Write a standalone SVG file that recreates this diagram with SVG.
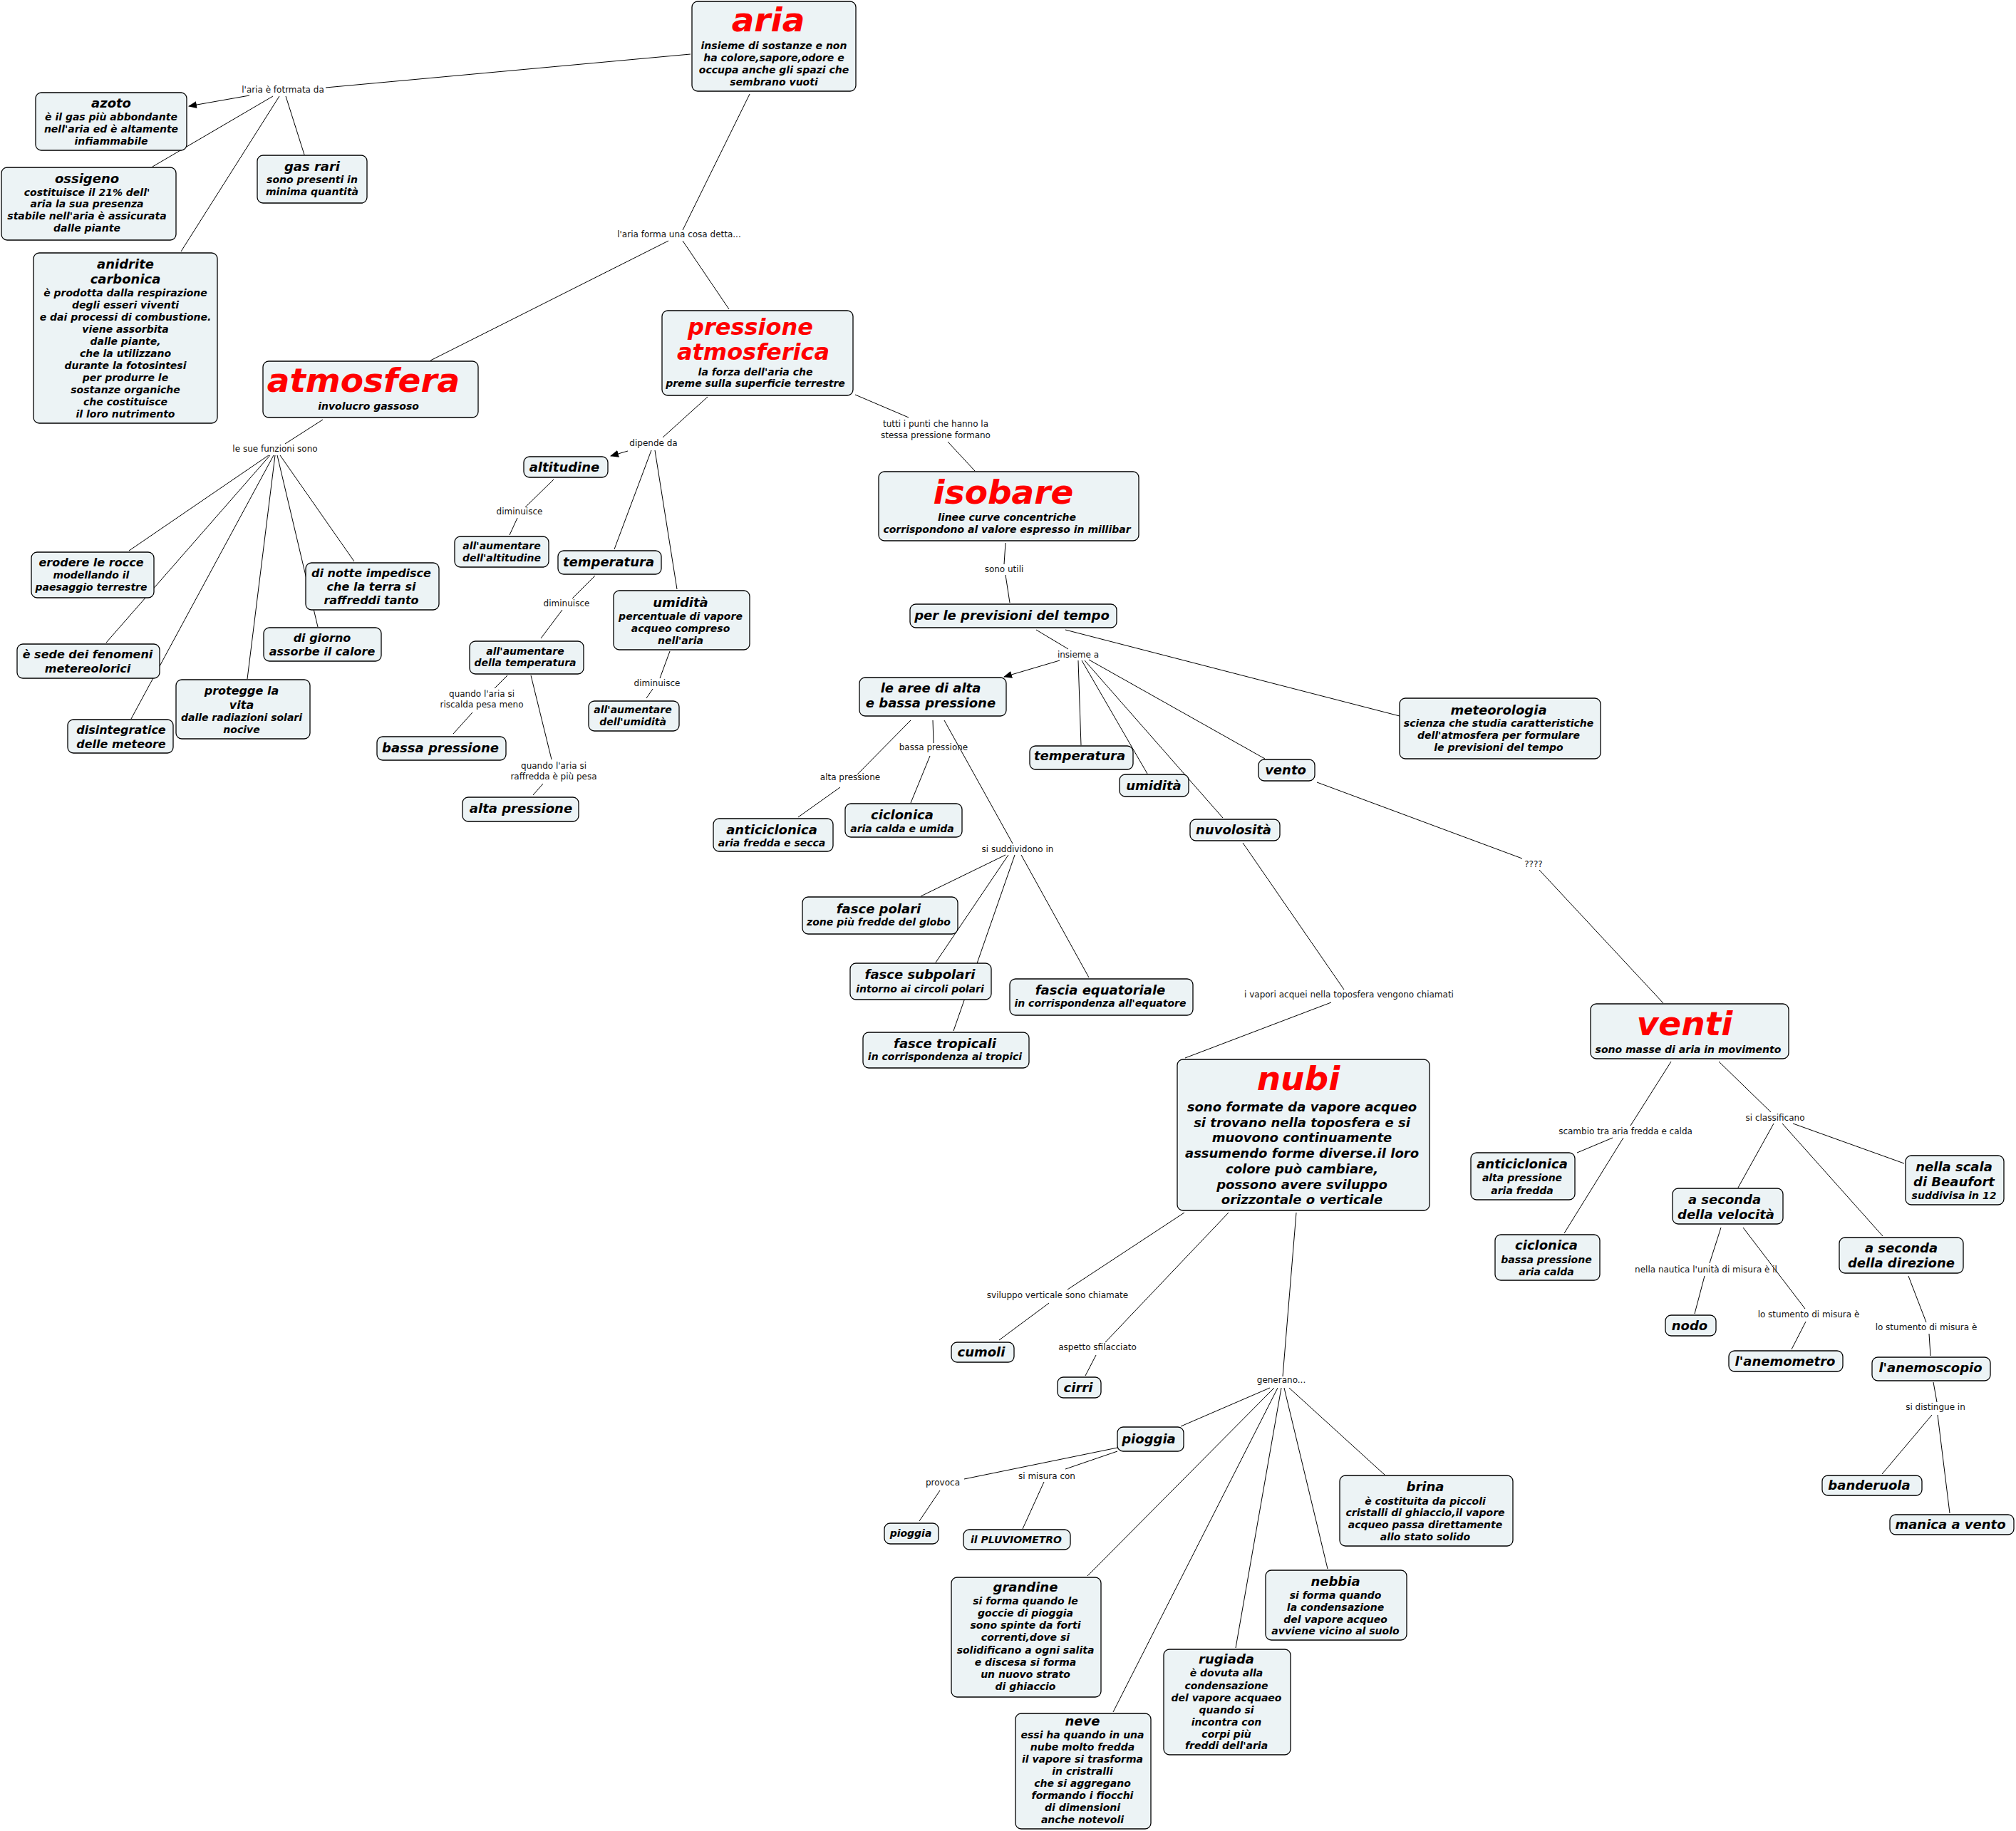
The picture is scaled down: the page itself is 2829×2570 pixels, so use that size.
<svg xmlns="http://www.w3.org/2000/svg" width="2829" height="2570" viewBox="0 0 2829 2570">
<style>
.bg{fill:#fff}
.n rect{fill:#ecf3f5;stroke:#000;stroke-width:1.3}
text{font-family:"DejaVu Sans","Liberation Sans",sans-serif}
.t{font-weight:bold;font-style:italic;text-anchor:middle;fill:#000}
.s18{font-size:18px}
.s16{font-size:16px}
.s14{font-size:14px}
.big{font-size:47px;fill:#ff0000}
.p32{font-size:32px;fill:#ff0000}
.lbl{font-size:12px;text-anchor:middle;fill:#111}
#connectors line{stroke:#000;stroke-width:1}
</style>
<defs>
<marker id="arr" markerWidth="12" markerHeight="10" refX="11" refY="5" orient="auto" markerUnits="userSpaceOnUse"><path d="M0,0 L12,5 L0,10 z" fill="#000"/></marker>
</defs>
<rect class="bg" x="0" y="0" width="2829" height="2570"/>
<g id="connectors">
<line x1="969" y1="76" x2="457" y2="123"/>
<line x1="350" y1="134" x2="265" y2="149" marker-end="url(#arr)"/>
<line x1="383" y1="135" x2="214" y2="234"/>
<line x1="392" y1="135" x2="254" y2="353"/>
<line x1="401" y1="135" x2="427" y2="217"/>
<line x1="1052" y1="132" x2="958" y2="323"/>
<line x1="938" y1="338" x2="604" y2="506"/>
<line x1="958" y1="338" x2="1023" y2="434"/>
<line x1="453" y1="589" x2="400" y2="623"/>
<line x1="377" y1="639" x2="181" y2="773"/>
<line x1="379" y1="639" x2="149" y2="902"/>
<line x1="384" y1="639" x2="184" y2="1009"/>
<line x1="386" y1="639" x2="347" y2="953"/>
<line x1="389" y1="639" x2="446" y2="880"/>
<line x1="393" y1="639" x2="497" y2="788"/>
<line x1="993" y1="557" x2="930" y2="614"/>
<line x1="881" y1="633" x2="857" y2="640" marker-end="url(#arr)"/>
<line x1="914" y1="632" x2="862" y2="771"/>
<line x1="919" y1="632" x2="950" y2="827"/>
<line x1="777" y1="673" x2="737" y2="712"/>
<line x1="726" y1="727" x2="715" y2="751"/>
<line x1="835" y1="808" x2="803" y2="840"/>
<line x1="789" y1="856" x2="759" y2="896"/>
<line x1="940" y1="914" x2="926" y2="952"/>
<line x1="916" y1="967" x2="907" y2="980"/>
<line x1="712" y1="948" x2="694" y2="966"/>
<line x1="663" y1="1000" x2="636" y2="1030"/>
<line x1="745" y1="948" x2="774" y2="1066"/>
<line x1="762" y1="1100" x2="748" y2="1116"/>
<line x1="1200" y1="554" x2="1275" y2="586"/>
<line x1="1330" y1="620" x2="1368" y2="661"/>
<line x1="1411" y1="762" x2="1409" y2="792"/>
<line x1="1411" y1="807" x2="1417" y2="846"/>
<line x1="1454" y1="884" x2="1499" y2="911"/>
<line x1="1495" y1="884" x2="1964" y2="1005"/>
<line x1="1487" y1="927" x2="1409" y2="950" marker-end="url(#arr)"/>
<line x1="1513" y1="927" x2="1517" y2="1046"/>
<line x1="1518" y1="927" x2="1610" y2="1086"/>
<line x1="1522" y1="927" x2="1716" y2="1148"/>
<line x1="1528" y1="926" x2="1775" y2="1065"/>
<line x1="1278" y1="1011" x2="1203" y2="1087"/>
<line x1="1179" y1="1105" x2="1120" y2="1147"/>
<line x1="1309" y1="1011" x2="1310" y2="1043"/>
<line x1="1305" y1="1061" x2="1278" y2="1127"/>
<line x1="1325" y1="1011" x2="1421" y2="1184"/>
<line x1="1411" y1="1200" x2="1292" y2="1258"/>
<line x1="1415" y1="1200" x2="1313" y2="1351"/>
<line x1="1424" y1="1200" x2="1338" y2="1447"/>
<line x1="1433" y1="1200" x2="1528" y2="1372"/>
<line x1="1848" y1="1098" x2="2136" y2="1205"/>
<line x1="2160" y1="1221" x2="2334" y2="1408"/>
<line x1="1744" y1="1183" x2="1886" y2="1389"/>
<line x1="1868" y1="1407" x2="1663" y2="1485"/>
<line x1="2345" y1="1490" x2="2288" y2="1580"/>
<line x1="2263" y1="1597" x2="2213" y2="1618"/>
<line x1="2278" y1="1597" x2="2195" y2="1731"/>
<line x1="2412" y1="1490" x2="2485" y2="1561"/>
<line x1="2489" y1="1577" x2="2439" y2="1667"/>
<line x1="2501" y1="1577" x2="2642" y2="1735"/>
<line x1="2516" y1="1577" x2="2672" y2="1633"/>
<line x1="2415" y1="1723" x2="2399" y2="1773"/>
<line x1="2392" y1="1791" x2="2378" y2="1844"/>
<line x1="2446" y1="1723" x2="2533" y2="1837"/>
<line x1="2534" y1="1855" x2="2514" y2="1894"/>
<line x1="2678" y1="1791" x2="2703" y2="1856"/>
<line x1="2707" y1="1872" x2="2709" y2="1903"/>
<line x1="2713" y1="1940" x2="2718" y2="1968"/>
<line x1="2711" y1="1986" x2="2641" y2="2069"/>
<line x1="2719" y1="1986" x2="2736" y2="2124"/>
<line x1="1662" y1="1702" x2="1498" y2="1810"/>
<line x1="1472" y1="1829" x2="1402" y2="1881"/>
<line x1="1724" y1="1702" x2="1551" y2="1884"/>
<line x1="1538" y1="1902" x2="1523" y2="1931"/>
<line x1="1819" y1="1702" x2="1800" y2="1932"/>
<line x1="1782" y1="1948" x2="1657" y2="2002"/>
<line x1="1788" y1="1948" x2="1526" y2="2212"/>
<line x1="1793" y1="1948" x2="1562" y2="2403"/>
<line x1="1798" y1="1948" x2="1734" y2="2313"/>
<line x1="1802" y1="1948" x2="1863" y2="2202"/>
<line x1="1809" y1="1948" x2="1943" y2="2070"/>
<line x1="1568" y1="2032" x2="1353" y2="2076"/>
<line x1="1319" y1="2092" x2="1290" y2="2135"/>
<line x1="1568" y1="2037" x2="1495" y2="2062"/>
<line x1="1465" y1="2080" x2="1435" y2="2146"/>
</g>
<g id="link-labels">
<text class="lbl" x="397" y="130">l'aria è fotrmata da</text>
<text class="lbl" x="953" y="333">l'aria forma una cosa detta...</text>
<text class="lbl" x="386" y="634">le sue funzioni sono</text>
<text class="lbl" x="917" y="626">dipende da</text>
<text class="lbl"><tspan x="1313" y="599">tutti i punti che hanno la</tspan><tspan x="1313" y="615">stessa pressione formano</tspan></text>
<text class="lbl" x="729" y="722">diminuisce</text>
<text class="lbl" x="795" y="851">diminuisce</text>
<text class="lbl" x="922" y="963">diminuisce</text>
<text class="lbl"><tspan x="676" y="978">quando l'aria si</tspan><tspan x="676" y="993">riscalda pesa meno</tspan></text>
<text class="lbl"><tspan x="777" y="1079">quando l'aria si</tspan><tspan x="777" y="1094">raffredda è più pesa</tspan></text>
<text class="lbl" x="1409" y="803">sono utili</text>
<text class="lbl" x="1513" y="923">insieme a</text>
<text class="lbl" x="1310" y="1053">bassa pressione</text>
<text class="lbl" x="1193" y="1095">alta pressione</text>
<text class="lbl" x="1428" y="1196">si suddividono in</text>
<text class="lbl" x="2152" y="1217">????</text>
<text class="lbl" x="1893" y="1400">i vapori acquei nella toposfera vengono chiamati</text>
<text class="lbl" x="2281" y="1592">scambio tra aria fredda e calda</text>
<text class="lbl" x="2491" y="1573">si classificano</text>
<text class="lbl" x="2394" y="1786">nella nautica l'unità di misura è il</text>
<text class="lbl" x="2538" y="1849">lo stumento di misura è</text>
<text class="lbl" x="2703" y="1867">lo stumento di misura è</text>
<text class="lbl" x="2716" y="1979">si distingue in</text>
<text class="lbl" x="1484" y="1822">sviluppo verticale sono chiamate</text>
<text class="lbl" x="1540" y="1895">aspetto sfilacciato</text>
<text class="lbl" x="1798" y="1941">generano...</text>
<text class="lbl" x="1323" y="2085">provoca</text>
<text class="lbl" x="1469" y="2076">si misura con</text>
</g>
<g id="aria" class="n"><rect x="971" y="2" width="230" height="126" rx="8"/>
<text class="t big" x="1078" y="44">aria</text>
<text class="t s14"><tspan x="1086" y="69">insieme di sostanze e non</tspan><tspan x="1086" y="86">ha colore,sapore,odore e</tspan><tspan x="1086" y="103">occupa anche gli spazi che</tspan><tspan x="1086" y="120">sembrano vuoti</tspan></text></g>
<g id="azoto" class="n"><rect x="50" y="130" width="212" height="81" rx="8"/>
<text class="t s18" x="156" y="151">azoto</text>
<text class="t s14"><tspan x="156" y="169">è il gas più abbondante</tspan><tspan x="156" y="186">nell'aria ed è altamente</tspan><tspan x="156" y="203">infiammabile</tspan></text></g>
<g id="ossigeno" class="n"><rect x="2" y="235" width="245" height="102" rx="8"/>
<text class="t s18" x="122" y="257">ossigeno</text>
<text class="t s14"><tspan x="122" y="275">costituisce il 21% dell'</tspan><tspan x="122" y="291">aria la sua presenza</tspan><tspan x="122" y="308">stabile nell'aria è assicurata</tspan><tspan x="122" y="325">dalle piante</tspan></text></g>
<g id="gas-rari" class="n"><rect x="361" y="218" width="154" height="67" rx="8"/>
<text class="t s18" x="438" y="240">gas rari</text>
<text class="t s14"><tspan x="438" y="257">sono presenti in</tspan><tspan x="438" y="274">minima quantità</tspan></text></g>
<g id="anidrite" class="n"><rect x="47" y="355" width="258" height="239" rx="8"/>
<text class="t s18"><tspan x="176" y="377">anidrite</tspan><tspan x="176" y="398">carbonica</tspan></text>
<text class="t s14"><tspan x="176" y="416">è prodotta dalla respirazione</tspan><tspan x="176" y="433">degli esseri viventi</tspan><tspan x="176" y="450">e dai processi di combustione.</tspan><tspan x="176" y="467">viene assorbita</tspan><tspan x="176" y="484">dalle piante,</tspan><tspan x="176" y="501">che la utilizzano</tspan><tspan x="176" y="518">durante la fotosintesi</tspan><tspan x="176" y="535">per produrre le</tspan><tspan x="176" y="552">sostanze organiche</tspan><tspan x="176" y="569">che costituisce</tspan><tspan x="176" y="586">il loro nutrimento</tspan></text></g>
<g id="atmosfera" class="n"><rect x="369" y="507" width="302" height="79" rx="8"/>
<text class="t big" x="510" y="550">atmosfera</text>
<text class="t s14" x="517" y="575">involucro gassoso</text></g>
<g id="pressione" class="n"><rect x="929" y="436" width="268" height="119" rx="8"/>
<text class="t p32"><tspan x="1053" y="470">pressione</tspan><tspan x="1057" y="505">atmosferica</tspan></text>
<text class="t s14"><tspan x="1060" y="527">la forza dell'aria che</tspan><tspan x="1060" y="543">preme sulla superficie terrestre</tspan></text></g>
<g id="isobare" class="n"><rect x="1233" y="662" width="365" height="97" rx="8"/>
<text class="t big" x="1408" y="707">isobare</text>
<text class="t s14"><tspan x="1413" y="731">linee curve concentriche</tspan><tspan x="1413" y="748">corrispondono al valore espresso in millibar</tspan></text></g>
<g id="previsioni" class="n"><rect x="1277" y="848" width="290" height="33" rx="8"/>
<text class="t s18" x="1420" y="870">per le previsioni del tempo</text></g>
<g id="aree" class="n"><rect x="1206" y="951" width="206" height="54" rx="8"/>
<text class="t s18"><tspan x="1306" y="972">le aree di alta</tspan><tspan x="1306" y="993">e bassa pressione</tspan></text></g>
<g id="temperatura2" class="n"><rect x="1445" y="1047" width="145" height="33" rx="8"/>
<text class="t s18" x="1515" y="1067">temperatura</text></g>
<g id="umidita2" class="n"><rect x="1571" y="1087" width="97" height="31" rx="8"/>
<text class="t s18" x="1619" y="1109">umidità</text></g>
<g id="vento" class="n"><rect x="1766" y="1066" width="79" height="30" rx="8"/>
<text class="t s18" x="1804" y="1087">vento</text></g>
<g id="nuvolosita" class="n"><rect x="1670" y="1150" width="126" height="30" rx="8"/>
<text class="t s18" x="1731" y="1171">nuvolosità</text></g>
<g id="meteorologia" class="n"><rect x="1964" y="980" width="282" height="85" rx="8"/>
<text class="t s18" x="2103" y="1003">meteorologia</text>
<text class="t s14"><tspan x="2103" y="1020">scienza che studia caratteristiche</tspan><tspan x="2103" y="1037">dell'atmosfera per formulare</tspan><tspan x="2103" y="1054">le previsioni del tempo</tspan></text></g>
<g id="anticiclonica1" class="n"><rect x="1001" y="1149" width="168" height="46" rx="8"/>
<text class="t s18" x="1083" y="1171">anticiclonica</text>
<text class="t s14" x="1083" y="1188">aria fredda e secca</text></g>
<g id="ciclonica1" class="n"><rect x="1186" y="1128" width="164" height="47" rx="8"/>
<text class="t s18" x="1266" y="1150">ciclonica</text>
<text class="t s14" x="1266" y="1168">aria calda e umida</text></g>
<g id="fasce-polari" class="n"><rect x="1126" y="1259" width="218" height="52" rx="8"/>
<text class="t s18" x="1233" y="1282">fasce polari</text>
<text class="t s14" x="1233" y="1299">zone più fredde del globo</text></g>
<g id="fasce-subpolari" class="n"><rect x="1193" y="1352" width="198" height="51" rx="8"/>
<text class="t s18" x="1291" y="1374">fasce subpolari</text>
<text class="t s14" x="1291" y="1393">intorno ai circoli polari</text></g>
<g id="fascia-equatoriale" class="n"><rect x="1417" y="1374" width="257" height="51" rx="8"/>
<text class="t s18" x="1544" y="1396">fascia equatoriale</text>
<text class="t s14" x="1544" y="1413">in corrispondenza all'equatore</text></g>
<g id="fasce-tropicali" class="n"><rect x="1211" y="1449" width="233" height="50" rx="8"/>
<text class="t s18" x="1326" y="1471">fasce tropicali</text>
<text class="t s14" x="1326" y="1488">in corrispondenza ai tropici</text></g>
<g id="venti" class="n"><rect x="2232" y="1409" width="278" height="77" rx="8"/>
<text class="t big" x="2364" y="1453">venti</text>
<text class="t s14" x="2369" y="1478">sono masse di aria in movimento</text></g>
<g id="nubi" class="n"><rect x="1652" y="1487" width="354" height="212" rx="8"/>
<text class="t big" x="1822" y="1530">nubi</text>
<text class="t s18"><tspan x="1827" y="1560">sono formate da vapore acqueo</tspan><tspan x="1827" y="1582">si trovano nella toposfera e si</tspan><tspan x="1827" y="1603">muovono continuamente</tspan><tspan x="1827" y="1625">assumendo forme diverse.il loro</tspan><tspan x="1827" y="1647">colore può cambiare,</tspan><tspan x="1827" y="1669">possono avere sviluppo</tspan><tspan x="1827" y="1690">orizzontale o verticale</tspan></text></g>
<g id="altitudine" class="n"><rect x="735" y="641" width="118" height="29" rx="8"/>
<text class="t s18" x="792" y="662">altitudine</text></g>
<g id="aum-altitudine" class="n"><rect x="638" y="753" width="132" height="43" rx="8"/>
<text class="t s14"><tspan x="704" y="771">all'aumentare</tspan><tspan x="704" y="788">dell'altitudine</tspan></text></g>
<g id="temperatura1" class="n"><rect x="783" y="773" width="145" height="33" rx="8"/>
<text class="t s18" x="854" y="795">temperatura</text></g>
<g id="aum-temperatura" class="n"><rect x="659" y="900" width="160" height="46" rx="8"/>
<text class="t s14"><tspan x="737" y="919">all'aumentare</tspan><tspan x="737" y="935">della temperatura</tspan></text></g>
<g id="umidita1" class="n"><rect x="861" y="829" width="191" height="83" rx="8"/>
<text class="t s18" x="955" y="852">umidità</text>
<text class="t s14"><tspan x="955" y="870">percentuale di vapore</tspan><tspan x="955" y="887">acqueo compreso</tspan><tspan x="955" y="904">nell'aria</tspan></text></g>
<g id="aum-umidita" class="n"><rect x="826" y="984" width="127" height="42" rx="8"/>
<text class="t s14"><tspan x="888" y="1001">all'aumentare</tspan><tspan x="888" y="1018">dell'umidità</tspan></text></g>
<g id="bassa-pressione" class="n"><rect x="529" y="1034" width="181" height="33" rx="8"/>
<text class="t s18" x="618" y="1056">bassa pressione</text></g>
<g id="alta-pressione" class="n"><rect x="649" y="1119" width="163" height="34" rx="8"/>
<text class="t s18" x="731" y="1141">alta pressione</text></g>
<g id="erodere" class="n"><rect x="44" y="775" width="172" height="64" rx="8"/>
<text class="t s16" x="128" y="795">erodere le rocce</text>
<text class="t s14"><tspan x="128" y="812">modellando il</tspan><tspan x="128" y="829">paesaggio terrestre</tspan></text></g>
<g id="di-notte" class="n"><rect x="429" y="790" width="187" height="66" rx="8"/>
<text class="t s16"><tspan x="521" y="810">di notte impedisce</tspan><tspan x="521" y="829">che la terra si</tspan><tspan x="521" y="848">raffreddi tanto</tspan></text></g>
<g id="di-giorno" class="n"><rect x="370" y="881" width="165" height="47" rx="8"/>
<text class="t s16"><tspan x="452" y="901">di giorno</tspan><tspan x="452" y="920">assorbe il calore</tspan></text></g>
<g id="sede" class="n"><rect x="24" y="904" width="200" height="48" rx="8"/>
<text class="t s16"><tspan x="123" y="924">è sede dei fenomeni</tspan><tspan x="123" y="944">metereolorici</tspan></text></g>
<g id="protegge" class="n"><rect x="247" y="954" width="188" height="83" rx="8"/>
<text class="t s16"><tspan x="339" y="975">protegge la</tspan><tspan x="339" y="995">vita</tspan></text>
<text class="t s14"><tspan x="339" y="1012">dalle radiazioni solari</tspan><tspan x="339" y="1029">nocive</tspan></text></g>
<g id="disintegratice" class="n"><rect x="95" y="1010" width="148" height="47" rx="8"/>
<text class="t s16"><tspan x="170" y="1030">disintegratice</tspan><tspan x="170" y="1050">delle meteore</tspan></text></g>
<g id="anticiclonica2" class="n"><rect x="2064" y="1618" width="146" height="66" rx="8"/>
<text class="t s18" x="2136" y="1640">anticiclonica</text>
<text class="t s14"><tspan x="2136" y="1658">alta pressione</tspan><tspan x="2136" y="1676">aria fredda</tspan></text></g>
<g id="ciclonica2" class="n"><rect x="2098" y="1733" width="147" height="64" rx="8"/>
<text class="t s18" x="2170" y="1754">ciclonica</text>
<text class="t s14"><tspan x="2170" y="1773">bassa pressione</tspan><tspan x="2170" y="1790">aria calda</tspan></text></g>
<g id="velocita" class="n"><rect x="2347" y="1668" width="155" height="50" rx="8"/>
<text class="t s18"><tspan x="2420" y="1690">a seconda</tspan><tspan x="2422" y="1711">della velocità</tspan></text></g>
<g id="beaufort" class="n"><rect x="2674" y="1622" width="138" height="69" rx="8"/>
<text class="t s18"><tspan x="2742" y="1644">nella scala</tspan><tspan x="2742" y="1665">di Beaufort</tspan></text>
<text class="t s14" x="2742" y="1683">suddivisa in 12</text></g>
<g id="direzione" class="n"><rect x="2581" y="1737" width="174" height="50" rx="8"/>
<text class="t s18"><tspan x="2668" y="1758">a seconda</tspan><tspan x="2668" y="1779">della direzione</tspan></text></g>
<g id="nodo" class="n"><rect x="2337" y="1846" width="71" height="29" rx="8"/>
<text class="t s18" x="2371" y="1867">nodo</text></g>
<g id="anemometro" class="n"><rect x="2426" y="1896" width="160" height="29" rx="8"/>
<text class="t s18" x="2505" y="1917">l'anemometro</text></g>
<g id="anemoscopio" class="n"><rect x="2627" y="1905" width="166" height="33" rx="8"/>
<text class="t s18" x="2709" y="1926">l'anemoscopio</text></g>
<g id="banderuola" class="n"><rect x="2557" y="2071" width="140" height="28" rx="8"/>
<text class="t s18" x="2623" y="2091">banderuola</text></g>
<g id="manica" class="n"><rect x="2652" y="2126" width="174" height="28" rx="8"/>
<text class="t s18" x="2737" y="2146">manica a vento</text></g>
<g id="cumoli" class="n"><rect x="1335" y="1884" width="88" height="28" rx="8"/>
<text class="t s18" x="1377" y="1904">cumoli</text></g>
<g id="cirri" class="n"><rect x="1484" y="1933" width="61" height="29" rx="8"/>
<text class="t s18" x="1513" y="1954">cirri</text></g>
<g id="pioggia" class="n"><rect x="1568" y="2003" width="93" height="34" rx="8"/>
<text class="t s18" x="1612" y="2026">pioggia</text></g>
<g id="pioggia2" class="n"><rect x="1241" y="2138" width="76" height="29" rx="8"/>
<text class="t s14" x="1278" y="2157">pioggia</text></g>
<g id="pluviometro" class="n"><rect x="1352" y="2147" width="150" height="28" rx="8"/>
<text class="t s14" x="1426" y="2166">il PLUVIOMETRO</text></g>
<g id="brina" class="n"><rect x="1880" y="2071" width="243" height="99" rx="8"/>
<text class="t s18" x="2000" y="2093">brina</text>
<text class="t s14"><tspan x="2000" y="2112">è costituita da piccoli</tspan><tspan x="2000" y="2128">cristalli di ghiaccio,il vapore</tspan><tspan x="2000" y="2145">acqueo passa direttamente</tspan><tspan x="2000" y="2162">allo stato solido</tspan></text></g>
<g id="nebbia" class="n"><rect x="1776" y="2204" width="198" height="98" rx="8"/>
<text class="t s18" x="1874" y="2226">nebbia</text>
<text class="t s14"><tspan x="1874" y="2244">si forma quando</tspan><tspan x="1874" y="2261">la condensazione</tspan><tspan x="1874" y="2278">del vapore acqueo</tspan><tspan x="1874" y="2294">avviene vicino al suolo</tspan></text></g>
<g id="grandine" class="n"><rect x="1335" y="2214" width="210" height="168" rx="8"/>
<text class="t s18" x="1439" y="2234">grandine</text>
<text class="t s14"><tspan x="1439" y="2252">si forma quando le</tspan><tspan x="1439" y="2269">goccie di pioggia</tspan><tspan x="1439" y="2286">sono spinte da forti</tspan><tspan x="1439" y="2303">correnti,dove si</tspan><tspan x="1439" y="2321">solidificano a ogni salita</tspan><tspan x="1439" y="2338">e discesa si forma</tspan><tspan x="1439" y="2355">un nuovo strato</tspan><tspan x="1439" y="2372">di ghiaccio</tspan></text></g>
<g id="rugiada" class="n"><rect x="1633" y="2315" width="178" height="148" rx="8"/>
<text class="t s18" x="1721" y="2335">rugiada</text>
<text class="t s14"><tspan x="1721" y="2353">è dovuta alla</tspan><tspan x="1721" y="2371">condensazione</tspan><tspan x="1721" y="2388">del vapore acquaeo</tspan><tspan x="1721" y="2405">quando si</tspan><tspan x="1721" y="2422">incontra con</tspan><tspan x="1721" y="2439">corpi più</tspan><tspan x="1721" y="2455">freddi dell'aria</tspan></text></g>
<g id="neve" class="n"><rect x="1425" y="2405" width="190" height="162" rx="8"/>
<text class="t s18" x="1519" y="2422">neve</text>
<text class="t s14"><tspan x="1519" y="2440">essi ha quando in una</tspan><tspan x="1519" y="2457">nube molto fredda</tspan><tspan x="1519" y="2474">il vapore si trasforma</tspan><tspan x="1519" y="2491">in cristralli</tspan><tspan x="1519" y="2508">che si aggregano</tspan><tspan x="1519" y="2525">formando i fiocchi</tspan><tspan x="1519" y="2542">di dimensioni</tspan><tspan x="1519" y="2559">anche notevoli</tspan></text></g>
</svg>
